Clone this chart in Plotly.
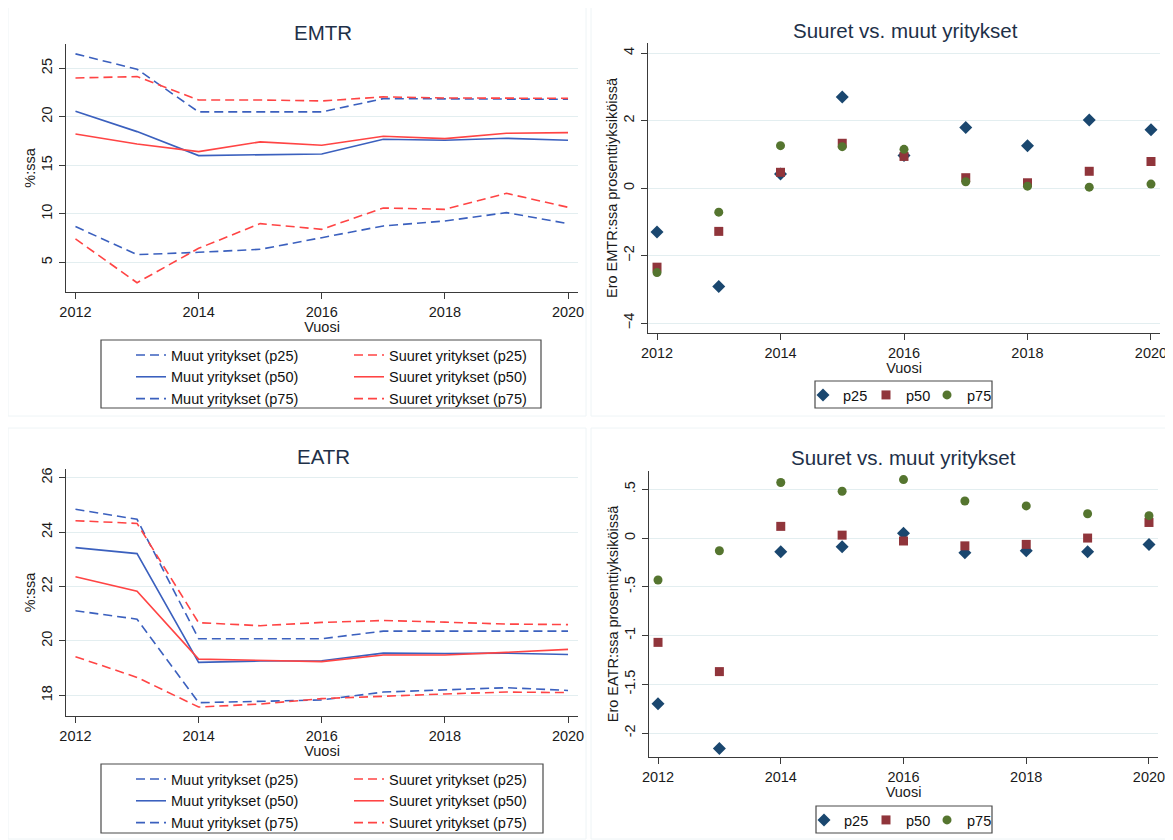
import plotly.graph_objects as go

# ---------------- data ----------------
years = [2012, 2013, 2014, 2015, 2016, 2017, 2018, 2019, 2020]
x_ticks = [2012, 2014, 2016, 2018, 2020]

emtr_muut_p25 = [8.68, 5.79, 6.03, 6.34, 7.54, 8.75, 9.26, 10.12, 8.99]
emtr_muut_p50 = [20.57, 18.47, 16.00, 16.07, 16.17, 17.68, 17.58, 17.78, 17.58]
emtr_muut_p75 = [26.48, 24.90, 20.50, 20.50, 20.50, 21.87, 21.85, 21.80, 21.80]
emtr_suuret_p25 = [7.41, 2.90, 6.44, 8.99, 8.40, 10.60, 10.46, 12.11, 10.67]
emtr_suuret_p50 = [18.23, 17.20, 16.41, 17.41, 17.06, 17.99, 17.75, 18.30, 18.37]
emtr_suuret_p75 = [24.00, 24.14, 21.73, 21.73, 21.63, 22.05, 21.94, 21.90, 21.90]

emtr_diff_p25 = [-1.30, -2.91, 0.42, 2.70, 0.97, 1.80, 1.26, 2.02, 1.73]
emtr_diff_p50 = [-2.34, -1.28, 0.47, 1.33, 0.94, 0.31, 0.16, 0.50, 0.79]
emtr_diff_p75 = [-2.50, -0.71, 1.26, 1.23, 1.15, 0.19, 0.06, 0.03, 0.12]

eatr_muut_p25 = [21.11, 20.80, 17.73, 17.79, 17.83, 18.12, 18.19, 18.28, 18.18]
eatr_muut_p50 = [23.43, 23.21, 19.21, 19.26, 19.27, 19.55, 19.54, 19.55, 19.50]
eatr_muut_p75 = [24.84, 24.47, 20.08, 20.08, 20.08, 20.36, 20.36, 20.36, 20.36]
eatr_suuret_p25 = [19.42, 18.66, 17.57, 17.68, 17.88, 17.97, 18.05, 18.12, 18.10]
eatr_suuret_p50 = [22.36, 21.83, 19.33, 19.28, 19.24, 19.48, 19.48, 19.58, 19.69]
eatr_suuret_p75 = [24.42, 24.32, 20.67, 20.56, 20.68, 20.75, 20.69, 20.62, 20.60]

eatr_diff_p25 = [-1.70, -2.16, -0.14, -0.09, 0.05, -0.15, -0.13, -0.14, -0.065]
eatr_diff_p50 = [-1.07, -1.37, 0.12, 0.03, -0.03, -0.08, -0.065, 0.00, 0.16]
eatr_diff_p75 = [-0.43, -0.13, 0.57, 0.48, 0.60, 0.38, 0.33, 0.25, 0.23]

emtr_yticks = [5, 10, 15, 20, 25]
emtr_diff_yticks = [-4, -2, 0, 2, 4]
eatr_yticks = [18, 20, 22, 24, 26]
eatr_diff_yticks = [-2, -1.5, -1, -0.5, 0, 0.5]
eatr_diff_yticktext = ["-2", "-1.5", "-1", "-.5", "0", ".5"]

# ---------------- style ----------------
OFF = 8                      # default page margin of the html body
W, H = 1173 - OFF, 840 - OFF
FONT = "Liberation Sans"
BLUE = "#3b60be"
RED = "#ff4444"
NAVY = "#1a476f"
MAROON = "#90353b"
GREEN = "#55752f"
GRID = "#e3eef0"
AXIS = "#3a3a3a"
TITLE_C = "#1e3048"
DASH = "9px,5px"
FS = 14.5


def px(x):
    return (x - OFF) / W


def py(y):
    return 1 - (y - OFF) / H


fig = go.Figure()


def add_lines(xa, ya, leg_m, leg_s, m25, m50, m75, s25, s50, s75):
    for name, vals, dash, leg, col in [
        ("Muut yritykset (p25)", m25, DASH, leg_m, BLUE),
        ("Muut yritykset (p50)", m50, "solid", leg_m, BLUE),
        ("Muut yritykset (p75)", m75, DASH, leg_m, BLUE),
        ("Suuret yritykset (p25)", s25, DASH, leg_s, RED),
        ("Suuret yritykset (p50)", s50, "solid", leg_s, RED),
        ("Suuret yritykset (p75)", s75, DASH, leg_s, RED),
    ]:
        fig.add_trace(go.Scatter(x=years, y=vals, mode="lines", name=name,
                                 line=dict(color=col, width=1.6, dash=dash),
                                 xaxis=xa, yaxis=ya, legend=leg))


def add_points(xa, ya, legs, d25, d50, d75):
    for (name, vals, sym, col, size), leg in zip([
        ("p25", d25, "diamond", NAVY, 10),
        ("p50", d50, "square", MAROON, 9),
        ("p75", d75, "circle", GREEN, 9),
    ], legs):
        fig.add_trace(go.Scatter(x=years, y=vals, mode="markers", name=name,
                                 marker=dict(symbol=sym, color=col, size=size, line=dict(width=0)),
                                 xaxis=xa, yaxis=ya, legend=leg))


add_lines("x", "y", "legend", "legend2", emtr_muut_p25, emtr_muut_p50, emtr_muut_p75,
          emtr_suuret_p25, emtr_suuret_p50, emtr_suuret_p75)
add_points("x2", "y2", ["legend3", "legend7", "legend8"], emtr_diff_p25, emtr_diff_p50, emtr_diff_p75)
add_lines("x3", "y3", "legend4", "legend5", eatr_muut_p25, eatr_muut_p50, eatr_muut_p75,
          eatr_suuret_p25, eatr_suuret_p50, eatr_suuret_p75)
add_points("x4", "y4", ["legend6", "legend9", "legend10"], eatr_diff_p25, eatr_diff_p50, eatr_diff_p75)


def xaxis_cfg(x0, x1, rng, anchor):
    return dict(domain=[px(x0), px(x1)], range=rng, anchor=anchor, automargin=False,
                tickvals=x_ticks, ticks="outside", ticklen=6, tickcolor=AXIS, tickwidth=1.2,
                showline=True, linecolor=AXIS, linewidth=1.2, showgrid=False, zeroline=False,
                tickfont=dict(family=FONT, size=FS, color="#1a1a1a"),
                title=dict(text="Vuosi", font=dict(family=FONT, size=FS, color="#1a1a1a"), standoff=0))


def yaxis_cfg(y0, y1, rng, anchor, tickvals, title, ticktext=None):
    d = dict(domain=[py(y1), py(y0)], range=rng, anchor=anchor, automargin=False,
             tickvals=tickvals, tickangle=-90, ticks="outside", ticklen=6, tickcolor=AXIS, tickwidth=1.2,
             ticklabelstandoff=1,
             showline=True, linecolor=AXIS, linewidth=1.2, showgrid=True, gridcolor=GRID, gridwidth=1.2,
             zeroline=False,
             tickfont=dict(family=FONT, size=FS, color="#1a1a1a"),
             title=dict(text=title, font=dict(family=FONT, size=FS, color="#1a1a1a"), standoff=0))
    if ticktext is not None:
        d["ticktext"] = ticktext
    return d


def leg_cfg(x, y):
    return dict(x=px(x), y=py(y), xanchor="left", yanchor="top", borderwidth=0,
                bgcolor="rgba(255,255,255,0)", font=dict(family=FONT, size=FS, color="#111111"),
                traceorder="normal", itemclick=False, itemdoubleclick=False)


shapes = []
# faint panel frames
for (x0, y0, x1, y1) in [(8, 4, 586, 416), (591, 4, 1172, 416), (8, 428, 586, 839), (591, 428, 1172, 839)]:
    shapes.append(dict(type="rect", xref="paper", yref="paper", x0=px(x0), x1=px(x1), y0=py(y1), y1=py(y0),
                       line=dict(color="#eef4f6", width=1), layer="below"))
# legend boxes
for (x0, y0, x1, y1) in [(101, 340, 541, 408), (101, 764, 543, 833), (815, 381, 992, 408), (816, 806, 992, 833)]:
    shapes.append(dict(type="rect", xref="paper", yref="paper", x0=px(x0), x1=px(x1), y0=py(y1), y1=py(y0),
                       line=dict(color="#4a4a4a", width=1.2)))

annotations = []
for text, x, y in [("EMTR", 323, 32), ("Suuret vs. muut yritykset", 905, 31),
                   ("EATR", 323, 456), ("Suuret vs. muut yritykset", 903, 457)]:
    annotations.append(dict(text=text, x=px(x), y=py(y), xref="paper", yref="paper",
                            xanchor="center", yanchor="middle", showarrow=False,
                            font=dict(family=FONT, size=20.5, color=TITLE_C)))

fig.update_layout(
    width=W, height=H, margin=dict(l=0, r=0, t=0, b=0, pad=0, autoexpand=False),
    paper_bgcolor="white", plot_bgcolor="white",
    font=dict(family=FONT, size=FS, color="#1a1a1a"),
    showlegend=True,
    xaxis=xaxis_cfg(66, 578, [2011.846, 2020.162], "y"),
    yaxis=yaxis_cfg(44, 292, [1.94, 27.5], "x", emtr_yticks, "%:ssa"),
    xaxis2=xaxis_cfg(648, 1160, [2011.854, 2020.146], "y2"),
    yaxis2=yaxis_cfg(43, 333, [-4.29, 4.3], "x2", emtr_diff_yticks, "Ero EMTR:ssa prosenttiyksiköissä"),
    xaxis3=xaxis_cfg(66, 578, [2011.846, 2020.162], "y3"),
    yaxis3=yaxis_cfg(469, 716, [17.24, 26.32], "x3", eatr_yticks, "%:ssa"),
    xaxis4=xaxis_cfg(649, 1158, [2011.853, 2020.147], "y4"),
    yaxis4=yaxis_cfg(471, 757, [-2.246, 0.688], "x4", eatr_diff_yticks, "Ero EATR:ssa prosenttiyksiköissä",
                     eatr_diff_yticktext),
    legend=leg_cfg(131, 339),
    legend2=leg_cfg(349, 339),
    legend3=leg_cfg(803, 379),
    legend7=leg_cfg(866, 379),
    legend8=leg_cfg(927, 379),
    legend4=leg_cfg(131, 763),
    legend5=leg_cfg(349, 763),
    legend6=leg_cfg(804, 804),
    legend9=leg_cfg(866, 804),
    legend10=leg_cfg(927, 804),
    shapes=shapes,
    annotations=annotations,
)

fig.write_html("out.html")
